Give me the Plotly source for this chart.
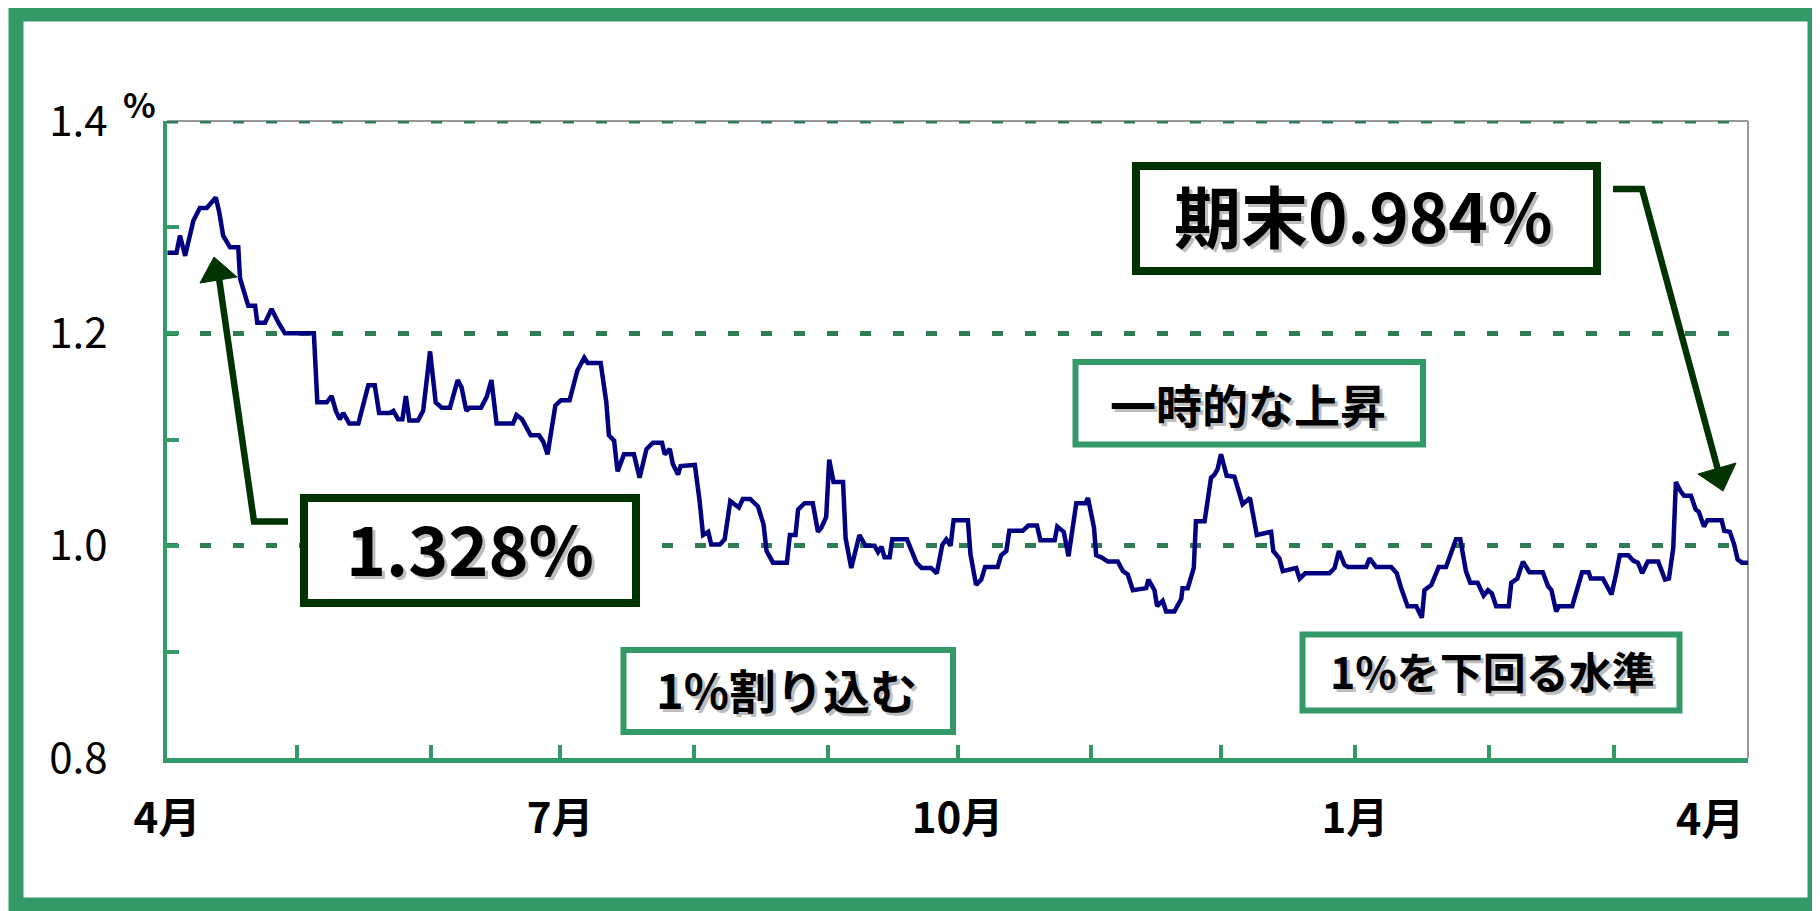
import pandas as pd
import plotly.graph_objects as go

# ---------------- data ----------------
START_DATE = "2011-04-01"
# day offsets from START_DATE of each vertex of the yield line
DAYS = [0.1, 2.2, 3.0, 4.2, 6.1, 7.6, 9.2, 11.3, 12.1, 13.0, 14.6, 16.5, 16.9, 18.0, 18.8,
        20.4, 20.9, 22.7, 24.2, 25.8, 27.3, 34.0, 34.8, 37.0, 38.1, 39.1, 40.0, 40.8, 42.2,
        44.3, 45.4, 46.6, 48.1, 49.1, 51.6, 52.4, 53.5, 54.5, 55.3, 56.1, 58.1, 59.3, 60.9,
        62.2, 63.6, 65.5, 67.3, 68.2, 69.3, 70.1, 72.7, 74.0, 75.1, 76.3, 80.1, 80.9, 82.2,
        83.6, 84.2, 86.1, 87.1, 88.1, 89.9, 91.2, 93.2, 95.0, 96.6, 97.4, 100.4, 101.7, 102.3,
        103.5, 104.3, 105.8, 108.1, 109.4, 111.0, 112.5, 114.6, 115.2, 116.4, 117.1, 118.3,
        118.9, 122.2, 123.3, 124.1, 125.3, 126.0, 128.0, 129.1, 130.4, 132.4, 133.3, 135.0,
        136.8, 138.1, 138.8, 140.3, 143.5, 144.2, 145.5, 146.1, 147.6, 149.5, 150.7, 151.5,
        152.6, 153.3, 154.3, 156.5, 157.1, 158.4, 160.3, 161.7, 163.8, 164.6, 165.4, 166.1,
        167.3, 167.9, 171.3, 172.7, 173.5, 174.7, 176.9, 178.2, 179.5, 180.4, 181.4, 182.1,
        185.4, 186.0, 187.3, 188.5, 189.4, 192.3, 193.1, 194.3, 195.0, 198.1, 199.4, 201.4,
        202.2, 205.5, 206.1, 207.6, 208.7, 210.5, 212.6, 213.2, 214.6, 215.1, 216.3, 217.8,
        220.1, 221.3, 222.4, 223.6, 226.7, 227.2, 228.6, 229.2, 230.5, 231.3, 233.2, 234.8,
        235.1, 236.3, 237.7, 238.2, 240.2, 241.7, 242.5, 243.2, 244.0, 244.4, 245.3, 247.1,
        249.0, 250.7, 252.3, 255.6, 256.1, 257.5, 258.3, 261.4, 262.2, 263.5, 269.1, 270.3,
        271.3, 272.6, 273.4, 277.6, 278.4, 279.9, 283.4, 284.7, 285.7, 287.2, 289.2, 290.5,
        291.1, 292.7, 293.8, 294.4, 296.1, 297.3, 298.4, 299.4, 300.7, 301.7, 303.4, 304.8,
        305.8, 306.7, 307.7, 310.6, 311.2, 312.6, 313.9, 315.4, 318.5, 319.7, 320.5, 321.6,
        322.2, 325.3, 326.5, 327.6, 329.1, 329.6, 332.4, 334.4, 335.5, 336.3, 338.3, 339.4,
        340.5, 341.5, 342.8, 345.2, 346.8, 347.7, 348.7, 349.3, 350.3, 351.2, 352.8, 353.9,
        354.6, 355.8, 356.6, 359.9, 360.5, 361.8, 362.8, 363.6, 364.6, 366.0]
RATE = [1.276, 1.276, 1.292, 1.273, 1.306, 1.318, 1.318, 1.328, 1.314, 1.292, 1.281, 1.281, 1.252, 1.238, 1.226,
        1.226, 1.210, 1.210, 1.223, 1.210, 1.200, 1.200, 1.135, 1.135, 1.141, 1.127, 1.119, 1.125, 1.115,
        1.115, 1.131, 1.151, 1.151, 1.125, 1.125, 1.127, 1.119, 1.119, 1.141, 1.118, 1.118, 1.127, 1.183,
        1.135, 1.130, 1.130, 1.156, 1.149, 1.127, 1.130, 1.130, 1.140, 1.156, 1.115, 1.115, 1.123, 1.119,
        1.107, 1.104, 1.104, 1.098, 1.086, 1.132, 1.137, 1.137, 1.165, 1.177, 1.172, 1.172, 1.135, 1.104,
        1.099, 1.070, 1.086, 1.086, 1.064, 1.091, 1.097, 1.097, 1.086, 1.091, 1.077, 1.067,
        1.075, 1.076, 1.042, 1.010, 1.013, 1.001, 1.001, 1.006, 1.042, 1.036, 1.044, 1.044,
        1.037, 1.020, 0.995, 0.984, 0.984, 1.010, 1.010, 1.034, 1.040, 1.040, 1.013, 1.017,
        1.027, 1.081, 1.060, 1.060, 1.007, 0.979, 1.010, 1.000, 1.000, 0.994, 0.999, 0.989,
        0.989, 1.006, 1.006, 0.990, 0.984, 0.979, 0.979, 0.974, 1.001, 1.006, 1.000, 1.024,
        1.024, 0.992, 0.963, 0.968, 0.980, 0.980, 0.991, 0.995, 1.014, 1.014, 1.019, 1.019,
        1.005, 1.005, 1.018, 1.013, 0.990, 1.040, 1.040, 1.045, 1.017, 0.991, 0.989, 0.985,
        0.985, 0.976, 0.973, 0.958, 0.960, 0.968, 0.958, 0.943, 0.948, 0.938, 0.938, 0.950,
        0.960, 0.960, 0.979, 1.023, 1.023, 1.064, 1.067, 1.072, 1.086, 1.080, 1.066, 1.065,
        1.039, 1.045, 1.010, 1.013, 0.995, 0.988, 0.976, 0.979, 0.969, 0.974, 0.974, 0.979,
        0.995, 0.982, 0.980, 0.980, 0.988, 0.980, 0.980, 0.974, 0.960, 0.943, 0.943, 0.932,
        0.958, 0.963, 0.976, 0.980, 0.980, 0.995, 1.006, 1.006, 0.976, 0.965, 0.965, 0.953,
        0.958, 0.955, 0.943, 0.943, 0.965, 0.969, 0.985, 0.975, 0.975, 0.962, 0.958, 0.938,
        0.943, 0.943, 0.958, 0.975, 0.975, 0.969, 0.969, 0.954, 0.974, 0.991, 0.991, 0.986,
        0.984, 0.974, 0.985, 0.985, 0.968, 0.969, 0.998, 1.060, 1.052, 1.047, 1.047, 1.034,
        1.032, 1.018, 1.024, 1.024, 1.014, 1.013, 1.001, 0.987, 0.984, 0.984]

MONTH_TICKS = ["2011-04-01", "2011-05-01", "2011-06-01", "2011-07-01", "2011-08-01",
               "2011-09-01", "2011-10-01", "2011-11-01", "2011-12-01", "2012-01-01",
               "2012-02-01", "2012-03-01", "2012-04-01"]
MONTH_LABELS = ["4月", "", "", "7月", "", "", "10月", "", "", "1月", "", "", ""]
LAST_MONTH_LABEL = "4月"
Y_MAJOR = [0.8, 1.0, 1.2, 1.4]
Y_MAJOR_LABELS = ["0.8", "1.0", "1.2", "1.4"]
Y_MINOR = [0.9, 1.1, 1.3]
Y_TOP = 1.4
UNIT = "%"

PEAK_TEXT = "1.328%"
END_TEXT = "期末0.984%"
NOTE_DROP = "1%割り込む"
NOTE_RISE = "一時的な上昇"
NOTE_BELOW = "1%を下回る水準"

# ---------------- styling ----------------
# The page body has an 8px margin, so the figure is drawn 8px smaller and
# window-pixel positions are converted with that offset.
OFF = 8
W, H = 1820 - OFF, 911 - OFF
L, R, T, B = 167 - OFF, 72, 121 - OFF, 153
PW, PH = W - L - R, H - T - B
GREEN = "#339966"
DARK = "#003300"
NAVY = "#000080"
GRID = "#2e7d55"
GRID_DASH = "11px,22px"
FONT = "Noto Sans CJK JP"


def px(x):
    return (x - OFF - L) / PW


def py(y):
    return (H - B - (y - OFF)) / PH


dates = pd.Timestamp(START_DATE) + pd.to_timedelta(DAYS, unit="D")

fig = go.Figure()
fig.add_trace(go.Scatter(x=dates, y=RATE, mode="lines",
                         line=dict(color=NAVY, width=4.5), hoverinfo="skip"))

shapes = []
# plot frame (gray top/right) and dotted top gridline
shapes.append(dict(type="line", xref="paper", yref="paper", x0=0, x1=1, y0=1, y1=1,
                   line=dict(color="#999999", width=2), layer="below"))
shapes.append(dict(type="line", xref="paper", yref="paper", x0=1, x1=1, y0=0, y1=1,
                   line=dict(color="#999999", width=2), layer="below"))
shapes.append(dict(type="line", xref="paper", yref="y", x0=0, x1=1, y0=Y_TOP, y1=Y_TOP,
                   line=dict(color=GRID, width=5, dash=GRID_DASH), layer="below"))
# outer green frame
shapes.append(dict(type="rect", xref="paper", yref="paper",
                   x0=px(16), x1=px(1815), y0=py(14), y1=py(905),
                   line=dict(color=GREEN, width=15), fillcolor="rgba(0,0,0,0)", layer="above"))


def box(x0, y0, x1, y1, color, width):
    shapes.append(dict(type="rect", xref="paper", yref="paper",
                       x0=px(x0), x1=px(x1), y0=py(y1), y1=py(y0),
                       line=dict(color=color, width=width), fillcolor="white", layer="above"))


box(1136, 166, 1597, 271, DARK, 8)
box(304, 498, 636, 603, DARK, 8)
box(1075.5, 362, 1423, 444.5, GREEN, 6)
box(623.5, 650, 953, 732, GREEN, 6)
box(1302.5, 634.5, 1679.5, 710.5, GREEN, 6)


def path(points, closed=False):
    s = "M " + " L ".join(f"{px(x):.5f},{py(y):.5f}" for x, y in points)
    return s + (" Z" if closed else "")


# leader arrows
shapes.append(dict(type="path", xref="paper", yref="paper",
                   path=path([(288, 521.5), (254, 521.5), (219, 278)]),
                   line=dict(color=DARK, width=6.5), layer="above"))
shapes.append(dict(type="path", xref="paper", yref="paper",
                   path=path([(200, 283), (237, 277), (214, 257)], True),
                   line=dict(color=DARK, width=1), fillcolor=DARK, layer="above"))
shapes.append(dict(type="path", xref="paper", yref="paper",
                   path=path([(1613, 189), (1642, 189), (1718, 470)]),
                   line=dict(color=DARK, width=6.5), layer="above"))
shapes.append(dict(type="path", xref="paper", yref="paper",
                   path=path([(1698, 474), (1736, 463), (1723, 491)], True),
                   line=dict(color=DARK, width=1), fillcolor=DARK, layer="above"))

annotations = []


def label(text, x, y, size, shadow=True, bold=True):
    if shadow:
        annotations.append(dict(text=text, xref="paper", yref="paper", x=px(x), y=py(y),
                                xshift=3, yshift=-3, showarrow=False,
                                xanchor="center", yanchor="middle",
                                font=dict(family=FONT, size=size, color="#bdbdbd",
                                          weight="bold" if bold else "normal")))
    annotations.append(dict(text=text, xref="paper", yref="paper", x=px(x), y=py(y),
                            showarrow=False, xanchor="center", yanchor="middle",
                            font=dict(family=FONT, size=size, color="black",
                                      weight="bold" if bold else "normal")))


label(END_TEXT, 1363, 214, 67)
label(PEAK_TEXT, 470, 546, 68)
label(NOTE_RISE, 1248, 403, 46)
label(NOTE_DROP, 786, 688, 47)
label(NOTE_BELOW, 1492, 670, 43)
label(UNIT, 139, 104, 34, shadow=False, bold=True)
label(LAST_MONTH_LABEL, 1710, 816, 43, shadow=False, bold=True)

fig.update_layout(
    width=W, height=H,
    margin=dict(l=L, r=R, t=T, b=B, autoexpand=False),
    plot_bgcolor="white", paper_bgcolor="white",
    showlegend=False,
    shapes=shapes, annotations=annotations,
    xaxis=dict(type="date", range=[MONTH_TICKS[0], MONTH_TICKS[-1]],
               tickvals=MONTH_TICKS, ticktext=MONTH_LABELS, tickangle=0,
               showline=True, linecolor=GREEN, linewidth=5,
               ticks="inside", ticklen=13, tickwidth=4, tickcolor=GREEN,
               tickfont=dict(family=FONT, size=42, color="black", weight="bold"),
               ticklabelstandoff=20, automargin=False,
               showgrid=False, zeroline=False, fixedrange=True),
    yaxis=dict(range=[0.8, 1.4], tickvals=Y_MAJOR, ticktext=Y_MAJOR_LABELS,
               showline=True, linecolor=GREEN, linewidth=4,
               ticks="inside", ticklen=12, tickwidth=4, tickcolor=GREEN,
               tickfont=dict(family=FONT, size=42, color="black"),
               ticklabelstandoff=47, automargin=False,
               showgrid=True, gridcolor=GRID, gridwidth=5, griddash=GRID_DASH,
               minor=dict(tickvals=Y_MINOR, ticks="inside", ticklen=12, tickwidth=4,
                          tickcolor=GREEN, showgrid=False),
               zeroline=False, fixedrange=True),
)

fig.write_html("out.html")
